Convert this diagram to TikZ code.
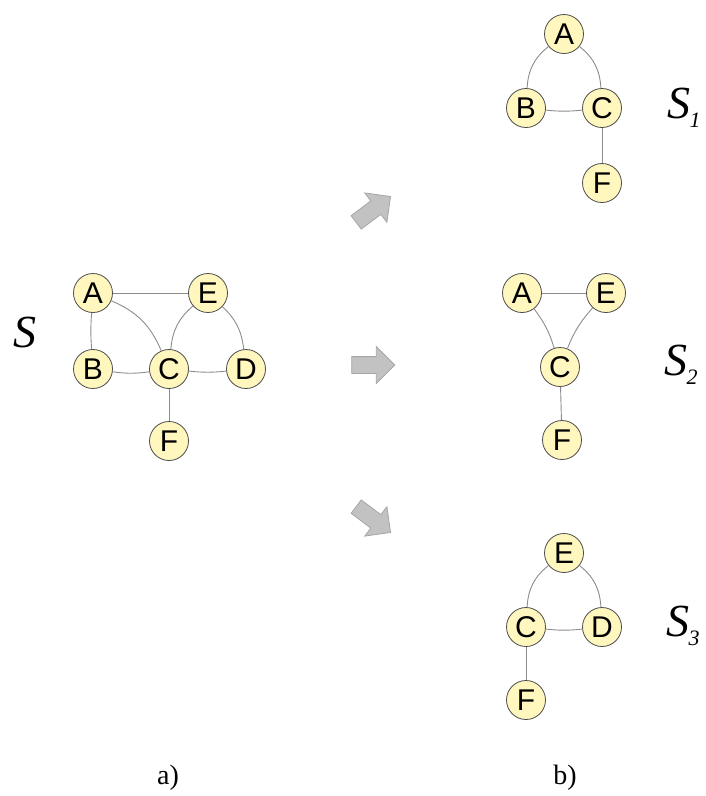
\documentclass[tikz,border=0pt]{standalone}
\usepackage{fontspec}
\setmainfont{Liberation Serif}
\setsansfont{Liberation Sans}
\usetikzlibrary{shapes.arrows}
\definecolor{nodefill}{RGB}{255,247,190}

\begin{document}
\begin{tikzpicture}[x=1pt,y=-1pt,
  vertex/.style={circle,draw=black!70,fill=nodefill,line width=0.8pt,minimum size=39pt,inner sep=0pt,font=\sffamily\fontsize{30}{30}\selectfont},
  link/.style={draw=black!45,line width=0.9pt},
  bigarrow/.style={single arrow,draw=black!35,fill=black!24,line width=0.8pt,minimum height=43pt,inner sep=8pt,single arrow head extend=10pt},
  setname/.style={font=\fontsize{46}{46}\selectfont\itshape},
  caption/.style={font=\fontsize{28}{28}\selectfont}]
\useasboundingbox (0, 0) rectangle (705, 796);
% graph S
\node[setname] (S) at (25, 332) {S};
\node[vertex] (A) at (93, 293) {A};
\node[vertex] (E) at (208, 293) {E};
\node[vertex] (B) at (93, 369) {B};
\node[vertex] (C) at (169, 369) {C};
\node[vertex] (D) at (246, 369) {D};
\node[vertex] (F) at (169, 441) {F};
\draw[link] (A) -- (E);
\draw[link] (A) to[bend right=4] (B);
\draw[link] (A) to[bend left=22] (C);
\draw[link] (C) to[bend left=22] (E);
\draw[link] (E) to[bend left=20] (D);
\draw[link] (B) to[bend right=8] (C);
\draw[link] (C) to[bend right=6] (D);
\draw[link] (C) -- (F);
% arrows
\node[bigarrow, rotate=37] (up) at (370, 212) {};
\node[bigarrow] (mid) at (369, 365) {};
\node[bigarrow, rotate=-37] (down) at (370, 517) {};
% graph S1
\node[vertex] (A1) at (564, 34) {A};
\node[vertex] (B1) at (526, 108) {B};
\node[vertex] (C1) at (602, 108) {C};
\node[vertex] (F1) at (602, 183) {F};
\node[setname] (S1) at (684, 108) {S\kern-1pt\raisebox{-9pt}{\fontsize{22}{22}\selectfont 1}};
\draw[link] (B1) to[bend left=24] (A1);
\draw[link] (A1) to[bend left=24] (C1);
\draw[link] (B1) to[bend right=6] (C1);
\draw[link] (C1) -- (F1);
% graph S2
\node[vertex] (A2) at (522, 293) {A};
\node[vertex] (E2) at (606, 293) {E};
\node[vertex] (C2) at (560, 367) {C};
\node[vertex] (F2) at (562, 440) {F};
\node[setname] (S2) at (681, 365) {S\kern-1pt\raisebox{-9pt}{\fontsize{22}{22}\selectfont 2}};
\draw[link] (A2) -- (E2);
\draw[link] (A2) to[bend left=10] (C2);
\draw[link] (C2) to[bend left=10] (E2);
\draw[link] (C2) -- (F2);
% graph S3
\node[vertex] (E3) at (564, 553) {E};
\node[vertex] (C3) at (526, 627) {C};
\node[vertex] (D3) at (602, 627) {D};
\node[vertex] (F3) at (526, 700) {F};
\node[setname] (S3) at (683, 626) {S\kern-1pt\raisebox{-9pt}{\fontsize{22}{22}\selectfont 3}};
\draw[link] (C3) to[bend left=24] (E3);
\draw[link] (E3) to[bend left=24] (D3);
\draw[link] (C3) to[bend right=6] (D3);
\draw[link] (C3) -- (F3);
% captions
\node[caption] (a) at (168, 778) {a)};
\node[caption] (b) at (565, 778) {b)};
\end{tikzpicture}
\end{document}
